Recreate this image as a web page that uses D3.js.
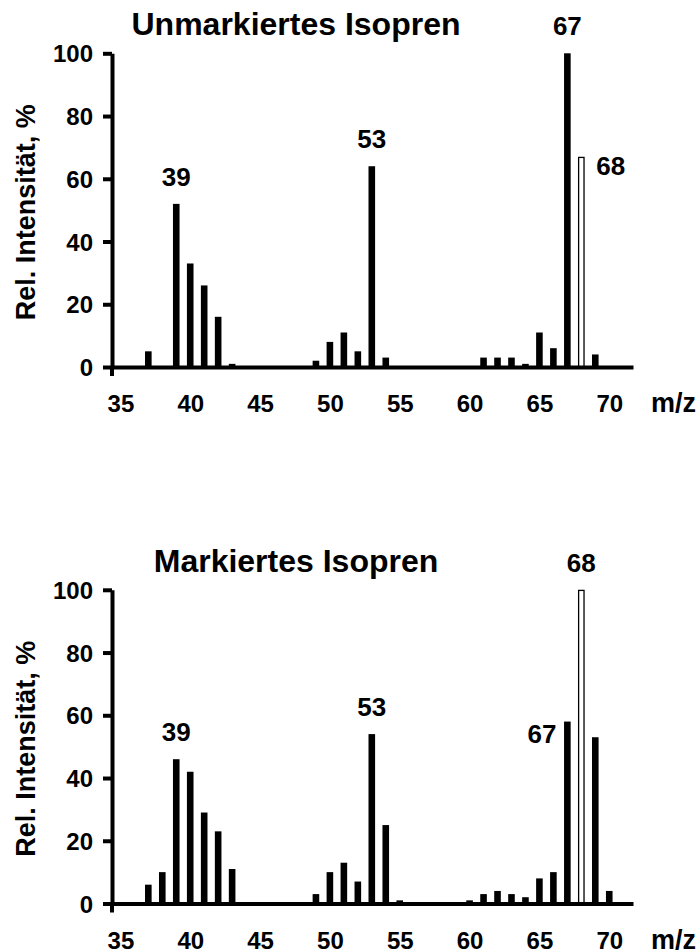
<!DOCTYPE html>
<html><head><meta charset="utf-8">
<script src="https://cdn.jsdelivr.net/npm/d3@7"></script>
<style>
body{margin:0;background:#fff}
text{font-family:"Liberation Sans",Arial,Helvetica,sans-serif;font-weight:bold;fill:#000}
</style>
</head><body>
<svg id="c" width="698" height="952"></svg>
<script>
// ---- data ----
const massesTop    = [37,39,40,41,42,43,49,50,51,52,53,54,61,62,63,64,65,66,67,68,69];
const valuesTop    = [5,52,33,26,16,1,2,8,11,5,64,3,3,3,3,1,11,6,100,67,4];
const massesBottom = [37,38,39,40,41,42,43,49,50,51,52,53,54,55,60,61,62,63,64,65,66,67,68,69,70];
const valuesBottom = [6,10,46,42,29,23,11,3,10,13,7,54,25,1,1,3,4,3,2,8,10,58,100,53,4];
const openMass = 68;               // hollow bar
const xTicks = [35,40,45,50,55,60,65,70];
const yTicks = [0,20,40,60,80,100];
const titles = ["Unmarkiertes Isopren","Markiertes Isopren"];
const peakLabelsTop    = [39,53,67,68];
const peakSidesTop     = ["top","top","top","right"];
const peakLabelsBottom = [39,53,67,68];
const peakSidesBottom  = ["top","top","left","top"];
const yTitle = "Rel. Intensität, %";
const xTitle = "m/z";

// ---- drawing ----
const svg = d3.select("#c");
const x = d3.scaleLinear().domain([34.4, 71.7]).range([112, 633]);
const barW = 6.6;

const panels = [
  {dy:0,     masses:massesTop,    values:valuesTop,    labels:peakLabelsTop,    sides:peakSidesTop,    title:titles[0]},
  {dy:536.5, masses:massesBottom, values:valuesBottom, labels:peakLabelsBottom, sides:peakSidesBottom, title:titles[1]}
];

panels.forEach(p => {
  const g = svg.append("g").attr("transform", `translate(0,${p.dy})`);
  const y = d3.scaleLinear().domain([0,100]).range([367, 53.3]);
  const data = p.masses.map((m,i)=>({m, v:p.values[i]}));

  // bars
  g.selectAll("rect.bar").data(data).join("rect")
    .attr("class","bar")
    .attr("x", d => x(d.m) - barW/2 + (d.m===openMass?0.6:0))
    .attr("width", d => d.m===openMass ? barW-1.2 : barW)
    .attr("y", d => y(d.v) + (d.m===openMass?0.6:0))
    .attr("height", d => y(0) - y(d.v) - (d.m===openMass?0.6:0))
    .attr("fill", d => d.m===openMass ? "#fff" : "#000")
    .attr("stroke", d => d.m===openMass ? "#000" : "none")
    .attr("stroke-width", 1.3);

  // x axis
  const xa = d3.axisBottom(x).tickValues(xTicks).tickSize(0).tickSizeOuter(0).tickPadding(0);
  const gx = g.append("g").attr("transform", `translate(0,${y(0)})`).call(xa);
  gx.select(".domain").attr("stroke","#000").attr("stroke-width",4);
  gx.selectAll(".tick text").attr("y",45).attr("dy",0).style("font-size","24px").attr("fill","#000");
  g.append("text").attr("x",651).attr("y",y(0)+45).style("font-size","27px").text(xTitle);

  // y axis
  const ya = d3.axisLeft(y).tickValues(yTicks).tickSize(9).tickSizeOuter(0).tickPadding(10);
  const gy = g.append("g").attr("transform", `translate(112,0)`).call(ya);
  gy.select(".domain").attr("stroke","#000").attr("stroke-width",4);
  gy.selectAll(".tick line").attr("stroke","#000").attr("stroke-width",4);
  gy.selectAll(".tick text").style("font-size","24px").attr("fill","#000").attr("dy","0.36em");
  // extension of y axis below origin
  g.append("line").attr("x1",112).attr("x2",112).attr("y1",y(0)).attr("y2",y(0)+9)
    .attr("stroke","#000").attr("stroke-width",4);

  // y title
  g.append("text").attr("transform",`translate(35,${(y(0)+y(100))/2 + 2}) rotate(-90)`)
    .attr("text-anchor","middle").style("font-size","27px").text(yTitle);

  // title
  g.append("text").attr("x",296).attr("y",35).attr("text-anchor","middle")
    .style("font-size","32px").text(p.title);

  // peak labels
  p.labels.forEach((m,i) => {
    const d = data.find(e=>e.m===m);
    const s = p.sides[i];
    const t = g.append("text").style("font-size","26px").text(m);
    if (s==="top") t.attr("x",x(m)).attr("y",y(d.v)-18).attr("text-anchor","middle");
    else if (s==="right") t.attr("x",x(m)+15).attr("y",y(d.v)+18).attr("text-anchor","start");
    else t.attr("x",x(m)-11).attr("y",y(d.v)+21).attr("text-anchor","end");
  });
});
</script>
</body></html>
